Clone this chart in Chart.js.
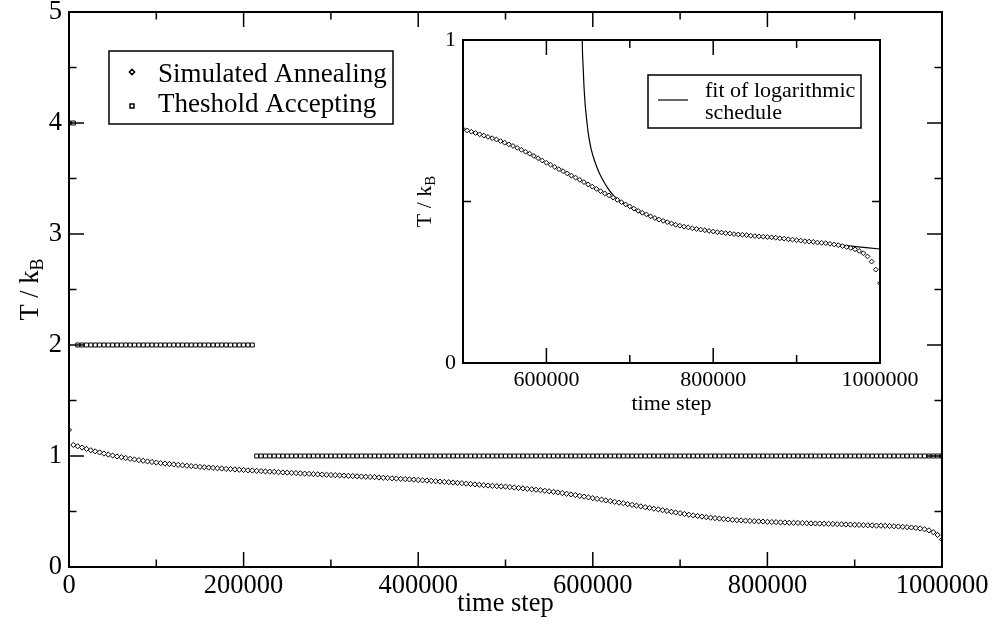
<!DOCTYPE html>
<html>
<head>
<meta charset="utf-8">
<script src="https://cdn.jsdelivr.net/npm/chart.js@4.4.0/dist/chart.umd.min.js"></script>
<style>
  html, body { margin: 0; padding: 0; background: #fff; }
  #wrap { position: relative; width: 994px; height: 627px; }
  #mainCanvas { position: absolute; left: 0; top: 0; }
  #insetCanvas { position: absolute; left: 400px; top: 20px; }
</style>
</head>
<body>
<div id="wrap">
  <canvas id="mainCanvas" width="994" height="627"></canvas>
  <canvas id="insetCanvas" width="540" height="400"></canvas>
</div>
<script>
// one sample every 5000 time steps, 0 .. 1000000
const timeStepSpacing = 5000;

// simulated annealing temperature
const saTemperature = [
  1.235, 1.100, 1.088, 1.076, 1.064, 1.052, 1.042, 1.032, 1.022, 1.013,
  1.004, 0.996, 0.989, 0.982, 0.975, 0.969, 0.963, 0.957, 0.951, 0.946,
  0.941, 0.936, 0.932, 0.928, 0.924, 0.920, 0.916, 0.912, 0.909, 0.906,
  0.902, 0.899, 0.896, 0.893, 0.890, 0.887, 0.884, 0.882, 0.879, 0.876,
  0.874, 0.871, 0.869, 0.866, 0.864, 0.861, 0.859, 0.857, 0.854, 0.852,
  0.850, 0.848, 0.846, 0.844, 0.841, 0.839, 0.837, 0.835, 0.833, 0.831,
  0.829, 0.827, 0.825, 0.823, 0.821, 0.819, 0.817, 0.815, 0.813, 0.811,
  0.809, 0.806, 0.804, 0.802, 0.799, 0.797, 0.794, 0.792, 0.789, 0.787,
  0.784, 0.781, 0.779, 0.776, 0.773, 0.770, 0.767, 0.764, 0.761, 0.758,
  0.755, 0.751, 0.748, 0.744, 0.741, 0.737, 0.734, 0.731, 0.728, 0.726,
  0.724, 0.720, 0.716, 0.712, 0.708, 0.704, 0.700, 0.696, 0.692, 0.687,
  0.682, 0.677, 0.672, 0.666, 0.660, 0.654, 0.648, 0.641, 0.634, 0.627,
  0.620, 0.614, 0.607, 0.600, 0.594, 0.587, 0.580, 0.574, 0.567, 0.560,
  0.553, 0.546, 0.539, 0.532, 0.525, 0.519, 0.512, 0.505, 0.498, 0.491,
  0.485, 0.478, 0.471, 0.465, 0.460, 0.454, 0.449, 0.444, 0.440, 0.436,
  0.432, 0.428, 0.425, 0.422, 0.420, 0.417, 0.415, 0.413, 0.411, 0.409,
  0.407, 0.405, 0.404, 0.402, 0.401, 0.399, 0.398, 0.397, 0.396, 0.394,
  0.393, 0.392, 0.391, 0.390, 0.389, 0.388, 0.386, 0.385, 0.383, 0.382,
  0.380, 0.379, 0.377, 0.376, 0.375, 0.373, 0.372, 0.371, 0.369, 0.367,
  0.365, 0.362, 0.359, 0.356, 0.352, 0.347, 0.340, 0.330, 0.314, 0.289,
  0.247
];

// threshold accepting threshold, same time grid
const taTemperature = [
  4, 4,
  2, 2, 2, 2, 2, 2, 2, 2, 2, 2, 2, 2, 2, 2, 2, 2, 2, 2, 2, 2,
  2, 2, 2, 2, 2, 2, 2, 2, 2, 2, 2, 2, 2, 2, 2, 2, 2, 2, 2, 2, 2,
  1, 1, 1, 1, 1, 1, 1, 1, 1, 1, 1, 1, 1, 1, 1, 1, 1, 1, 1, 1,
  1, 1, 1, 1, 1, 1, 1, 1, 1, 1, 1, 1, 1, 1, 1, 1, 1, 1, 1, 1,
  1, 1, 1, 1, 1, 1, 1, 1, 1, 1, 1, 1, 1, 1, 1, 1, 1, 1, 1, 1,
  1, 1, 1, 1, 1, 1, 1, 1, 1, 1, 1, 1, 1, 1, 1, 1, 1, 1, 1, 1,
  1, 1, 1, 1, 1, 1, 1, 1, 1, 1, 1, 1, 1, 1, 1, 1, 1, 1, 1, 1,
  1, 1, 1, 1, 1, 1, 1, 1, 1, 1, 1, 1, 1, 1, 1, 1, 1, 1, 1, 1,
  1, 1, 1, 1, 1, 1, 1, 1, 1, 1, 1, 1, 1, 1, 1, 1, 1, 1, 1, 1,
  1, 1, 1, 1, 1, 1, 1, 1, 1, 1, 1, 1, 1, 1, 1, 1, 1, 1
];

// logarithmic schedule fit (inset)
const fitTime = [642000, 643000, 644000, 645000, 646500, 648000, 650000, 653000, 656000, 660000,
  664000, 668000, 674000, 680000, 686000, 692000, 700000, 710000, 720000, 735000,
  750000, 775000, 800000, 850000, 900000, 950000, 1000000];
const fitTemperature = [1.30, 1.00, 0.92, 0.86, 0.80, 0.76, 0.715, 0.67, 0.64, 0.61,
  0.585, 0.565, 0.54, 0.52, 0.506, 0.495, 0.482, 0.469, 0.458, 0.444,
  0.432, 0.418, 0.407, 0.393, 0.380, 0.366, 0.353];

const mainXTicks = [0, 200000, 400000, 600000, 800000, 1000000];
const mainYTicks = [0, 1, 2, 3, 4, 5];
const insetXTicks = [600000, 800000, 1000000];
const insetYTicks = [0, 1];

const saPoints = saTemperature.map((t, i) => ({ x: i * timeStepSpacing, y: t }));
const taPoints = taTemperature.map((t, i) => ({ x: i * timeStepSpacing, y: t }));
const fitPoints = fitTime.map((t, i) => ({ x: t, y: fitTemperature[i] }));

const serif = '"Liberation Serif", "Times New Roman", serif';

// box frame + inward ticks on all four sides (minor ticks halfway between majors)
const frameTicks = {
  id: 'frameTicks',
  afterDatasetsDraw(chart, args, o) {
    const { ctx, chartArea: a, scales } = chart;
    ctx.save();
    ctx.strokeStyle = '#000';
    ctx.lineWidth = o.tickWidth;
    function seg(x1, y1, x2, y2) {
      ctx.beginPath(); ctx.moveTo(x1, y1); ctx.lineTo(x2, y2); ctx.stroke();
    }
    const xs = scales.x.ticks.map(t => t.value);
    const ys = scales.y.ticks.map(t => t.value);
    function tickX(v, len) {
      const p = scales.x.getPixelForValue(v);
      seg(p, a.bottom, p, a.bottom - len);
      seg(p, a.top, p, a.top + len);
    }
    function tickY(v, len) {
      const p = scales.y.getPixelForValue(v);
      seg(a.left, p, a.left + len, p);
      seg(a.right, p, a.right - len, p);
    }
    xs.forEach(v => tickX(v, o.major));
    for (let i = 0; i < xs.length - 1; i++) tickX((xs[i] + xs[i + 1]) / 2, o.minor);
    ys.forEach(v => tickY(v, o.major));
    for (let i = 0; i < ys.length - 1; i++) tickY((ys[i] + ys[i + 1]) / 2, o.minor);
    ctx.lineWidth = o.frameWidth;
    ctx.strokeRect(a.left, a.top, a.right - a.left, a.bottom - a.top);
    ctx.restore();
  }
};

// rotated y title with a subscript (T / k_B)
const yTitle = {
  id: 'yTitle',
  afterDraw(chart, args, o) {
    const { ctx, chartArea: a } = chart;
    ctx.save();
    ctx.translate(o.x, (a.top + a.bottom) / 2);
    ctx.rotate(-Math.PI / 2);
    ctx.fillStyle = '#000';
    ctx.textBaseline = 'alphabetic';
    ctx.font = o.size + 'px ' + serif;
    const w1 = ctx.measureText(o.text).width;
    ctx.font = o.subSize + 'px ' + serif;
    const w2 = ctx.measureText(o.sub).width;
    const start = -(w1 + w2) / 2;
    ctx.font = o.size + 'px ' + serif;
    ctx.fillText(o.text, start, 0);
    ctx.font = o.subSize + 'px ' + serif;
    ctx.fillText(o.sub, start + w1, o.subShift);
    ctx.restore();
  }
};

// framed legend inside the plot
const boxLegend = {
  id: 'boxLegend',
  afterDraw(chart, args, o) {
    const ctx = chart.ctx;
    ctx.save();
    ctx.fillStyle = '#fff';
    ctx.fillRect(o.left, o.top, o.width, o.height);
    ctx.strokeStyle = '#000';
    ctx.lineWidth = o.borderWidth;
    ctx.strokeRect(o.left, o.top, o.width, o.height);
    ctx.font = o.fontSize + 'px ' + serif;
    ctx.textBaseline = 'alphabetic';
    let line = 0;
    o.datasets.forEach((di, k) => {
      const ds = chart.data.datasets[di];
      const my = o.markerYs[k];
      if (ds.showLine) {
        ctx.lineWidth = ds.borderWidth;
        ctx.beginPath();
        ctx.moveTo(o.markerX - o.lineHalf, my);
        ctx.lineTo(o.markerX + o.lineHalf, my);
        ctx.stroke();
      } else {
        ctx.fillStyle = ds.pointBackgroundColor;
        ctx.strokeStyle = ds.pointBorderColor;
        Chart.helpers.drawPoint(ctx, {
          pointStyle: ds.pointStyle, radius: ds.pointRadius, borderWidth: ds.pointBorderWidth, rotation: 0
        }, o.markerX, my);
      }
      ctx.fillStyle = '#000';
      [].concat(ds.label).forEach(txt => {
        ctx.fillText(txt, o.textX, o.baselines[line]);
        line++;
      });
    });
    ctx.restore();
  }
};

function tickFont(size) { return { family: serif, size: size, lineHeight: 1.2 }; }

// main chart
new Chart(document.getElementById('mainCanvas'), {
  type: 'scatter',
  data: {
    datasets: [
      {
        label: 'Simulated Annealing', data: saPoints, showLine: false,
        pointStyle: 'rectRot', pointRadius: 2.6, pointBorderWidth: 1,
        pointBackgroundColor: '#fff', pointBorderColor: '#000'
      },
      {
        label: 'Theshold Accepting', data: taPoints, showLine: false,
        pointStyle: 'rect', pointRadius: 2.8, pointBorderWidth: 1,
        pointBackgroundColor: '#fff', pointBorderColor: '#000'
      }
    ]
  },
  options: {
    responsive: false,
    animation: false,
    devicePixelRatio: 1,
    layout: { padding: { left: 0, top: 12, right: 52, bottom: 0 } },
    plugins: {
      legend: { display: false },
      tooltip: { enabled: false },
      frameTicks: { major: 15, minor: 7.5, tickWidth: 1.5, frameWidth: 2 },
      yTitle: { x: 38, text: 'T / k', sub: 'B', size: 26.5, subSize: 18, subShift: 5 },
      boxLegend: {
        left: 109, top: 51, width: 284, height: 73, borderWidth: 1.5, fontSize: 27,
        datasets: [0, 1], markerX: 132, markerYs: [72, 106], textX: 158, baselines: [82, 112]
      }
    },
    scales: {
      x: {
        type: 'linear', min: 0, max: 1000000,
        afterBuildTicks: s => { s.ticks = mainXTicks.map(v => ({ value: v })); },
        afterFit: s => { s.height = 60; s.paddingLeft = 0; s.paddingRight = 0; },
        grid: { display: false, drawTicks: false },
        border: { display: false },
        ticks: { font: tickFont(26.5), color: '#000', padding: 3, maxRotation: 0, autoSkip: false, callback: v => String(v) },
        title: { display: true, text: 'time step', color: '#000', font: tickFont(26.5), padding: { top: 0, bottom: 7 } }
      },
      y: {
        type: 'linear', min: 0, max: 5,
        afterBuildTicks: s => { s.ticks = mainYTicks.map(v => ({ value: v })); },
        afterFit: s => { s.width = 69; s.paddingTop = 0; s.paddingBottom = 0; },
        grid: { display: false, drawTicks: false },
        border: { display: false },
        ticks: { font: tickFont(26.5), color: '#000', padding: 7, callback: v => String(v) }
      }
    }
  },
  plugins: [frameTicks, yTitle, boxLegend]
});

// inset: late part of the annealing run with the log-schedule fit
new Chart(document.getElementById('insetCanvas'), {
  type: 'scatter',
  data: {
    datasets: [
      {
        label: 'Simulated Annealing', data: saPoints.filter(p => p.x >= 500000), showLine: false,
        pointStyle: 'rectRot', pointRadius: 2.4, pointBorderWidth: 1,
        pointBackgroundColor: '#fff', pointBorderColor: '#000'
      },
      {
        label: ['fit of logarithmic', 'schedule'], data: fitPoints, showLine: true,
        borderColor: '#000', borderWidth: 1.2, pointRadius: 0, cubicInterpolationMode: 'monotone'
      }
    ]
  },
  options: {
    responsive: false,
    animation: false,
    devicePixelRatio: 1,
    layout: { padding: { left: 0, top: 20, right: 60, bottom: 0 } },
    plugins: {
      legend: { display: false },
      tooltip: { enabled: false },
      frameTicks: { major: 15, minor: 8, tickWidth: 1.5, frameWidth: 2 },
      yTitle: { x: 31, text: 'T / k', sub: 'B', size: 22, subSize: 15, subShift: 4 },
      boxLegend: {
        left: 248, top: 55, width: 213, height: 53, borderWidth: 1.5, fontSize: 22,
        datasets: [1], markerX: 273, markerYs: [80], lineHalf: 15, textX: 305, baselines: [77, 99]
      }
    },
    scales: {
      x: {
        type: 'linear', min: 500000, max: 1000000,
        afterBuildTicks: s => { s.ticks = insetXTicks.map(v => ({ value: v })); },
        afterFit: s => { s.height = 57; s.paddingLeft = 0; s.paddingRight = 0; },
        grid: { display: false, drawTicks: false },
        border: { display: false },
        ticks: { font: tickFont(22), color: '#000', padding: 4, maxRotation: 0, autoSkip: false, callback: v => String(v) },
        title: { display: true, text: 'time step', color: '#000', font: tickFont(22), padding: { top: 0, bottom: 3 } }
      },
      y: {
        type: 'linear', min: 0, max: 1,
        afterBuildTicks: s => { s.ticks = insetYTicks.map(v => ({ value: v })); },
        afterFit: s => { s.width = 63; s.paddingTop = 0; s.paddingBottom = 0; },
        grid: { display: false, drawTicks: false },
        border: { display: false },
        ticks: { font: tickFont(22), color: '#000', padding: 7, callback: v => String(v) }
      }
    }
  },
  plugins: [frameTicks, yTitle, boxLegend]
});
</script>
</body>
</html>
